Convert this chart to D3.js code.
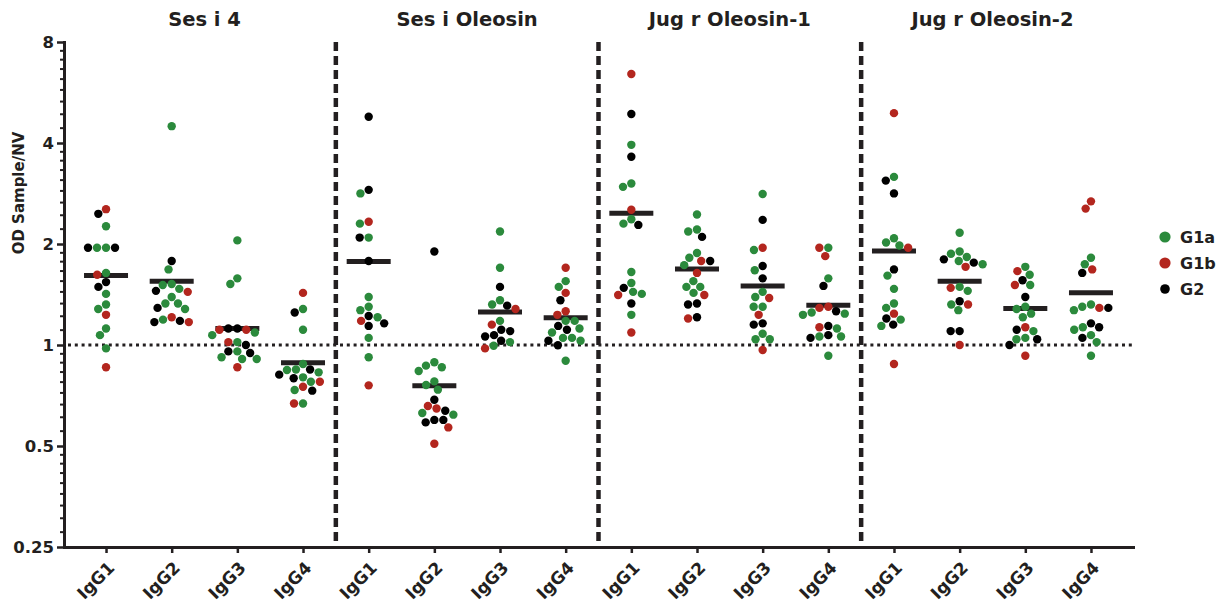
<!DOCTYPE html>
<html>
<head>
<meta charset="utf-8">
<script src="https://cdn.jsdelivr.net/npm/d3@7"></script>
<style>
  body { margin: 0; background: #fff; }
  text { font-family: "DejaVu Sans", sans-serif; font-weight: bold; fill: #231f20; }
</style>
</head>
<body>
<svg id="chart" width="1225" height="604"></svg>
<script>
const panels = ["Ses i 4", "Ses i Oleosin", "Jug r Oleosin-1", "Jug r Oleosin-2"];
const isotypes = ["IgG1", "IgG2", "IgG3", "IgG4"];
const groups = ["G1a", "G1b", "G2"];
const groupColors = ["#2b8a3c", "#b3261e", "#000000"];
const yTicks = [0.25, 0.5, 1, 2, 4, 8];

// one list per panel x isotype cell, panel by panel
const g1a = [
  [2.26, 1.95, 1.95, 1.64, 1.42, 1.28, 1.32, 1.12, 1.07, 0.977],
  [4.49, 1.68, 1.51, 1.52, 1.47, 1.39, 1.33, 1.33, 1.28, 1.19],
  [2.05, 1.58, 1.52, 1.09, 1.07, 1.02, 0.957, 0.908, 0.908, 0.919],
  [1.28, 1.11, 0.878, 0.842, 0.845, 0.829, 0.801, 0.777, 0.734, 0.669],
  [2.83, 2.30, 2.09, 1.39, 1.30, 1.27, 1.21, 1.05, 0.919],
  [0.888, 0.858, 0.868, 0.837, 0.779, 0.760, 0.736, 0.627, 0.620],
  [2.18, 1.70, 1.36, 1.32, 1.18, 1.02, 0.995],
  [1.55, 1.49, 1.18, 1.18, 1.12, 1.09, 1.05, 1.05, 1.03, 0.898],
  [3.95, 2.96, 3.03, 2.37, 2.30, 1.65, 1.53, 1.44, 1.42, 1.23],
  [2.45, 2.18, 2.21, 1.88, 1.82, 1.73, 1.55, 1.49, 1.49, 1.43],
  [2.82, 1.92, 1.67, 1.44, 1.39, 1.30, 1.30, 1.08, 1.04, 1.04],
  [1.95, 1.58, 1.25, 1.23, 1.24, 1.12, 1.06, 1.06, 0.929],
  [3.17, 2.08, 1.98, 2.02, 1.61, 1.47, 1.33, 1.29, 1.19, 1.14],
  [2.16, 1.90, 1.87, 1.83, 1.78, 1.74, 1.49, 1.45, 1.32, 1.27],
  [1.71, 1.62, 1.51, 1.28, 1.30, 1.24, 1.21, 1.10, 1.05, 1.04],
  [1.82, 1.74, 1.30, 1.27, 1.32, 1.11, 1.13, 1.07, 1.02, 0.929]
];
const g1b = [
  [2.54, 1.62, 1.23, 0.858],
  [1.44, 1.17, 1.21],
  [1.11, 1.11, 1.02, 0.858],
  [1.43, 0.777, 0.751, 0.669],
  [2.33, 1.18, 0.758],
  [0.658, 0.647, 0.568, 0.508],
  [1.28, 1.15, 0.977],
  [1.70, 1.43, 1.26, 1.23],
  [6.42, 2.53, 1.41, 1.09],
  [1.78, 1.64, 1.41, 1.20],
  [1.95, 1.38, 1.23, 0.966],
  [1.95, 1.84, 1.29, 1.30, 1.13],
  [4.91, 1.95, 1.24, 0.878],
  [1.71, 1.48, 1.32, 1.0],
  [1.66, 1.51, 1.13, 0.929],
  [2.68, 2.55, 1.68, 1.29]
];
const g2 = [
  [2.46, 1.95, 1.95, 1.54, 1.49],
  [1.78, 1.45, 1.29, 1.17, 1.18],
  [1.12, 1.12, 1.0, 0.957, 0.947],
  [1.25, 0.845, 0.816, 0.796, 0.731],
  [4.79, 2.90, 2.09, 1.78, 1.22, 1.16, 1.14],
  [1.90, 0.687, 0.637, 0.598, 0.588, 0.598],
  [1.49, 1.31, 1.11, 1.10, 1.07, 1.06, 1.03],
  [1.36, 1.14, 1.11, 1.03, 0.998],
  [4.88, 3.64, 2.28, 1.48, 1.33],
  [2.10, 1.78, 1.33, 1.32, 1.21],
  [2.36, 1.72, 1.58, 1.15, 1.16],
  [1.50, 1.26, 1.14, 1.07, 1.05],
  [3.09, 2.83, 1.68, 1.20, 1.15],
  [1.80, 1.76, 1.35, 1.10, 1.10],
  [1.56, 1.39, 1.11, 1.04, 1.0],
  [1.64, 1.29, 1.16, 1.13, 1.05]
];

const series = [g1a, g1b, g2];

const cells = d3.range(panels.length * isotypes.length).map(i => {
  const points = [];
  series.forEach((s, gi) => s[i].forEach(v => points.push({ group: gi, value: v })));
  return {
    key: i,
    panel: Math.floor(i / isotypes.length),
    isotype: isotypes[i % isotypes.length],
    points,
    mean: d3.mean(points, p => p.value)
  };
});

const svg = d3.select("#chart");
const margin = { left: 64, right: 1133, top: 42, bottom: 547 };

const x = d3.scalePoint().domain(cells.map(d => d.key)).range([margin.left, margin.right]).padding(0.64);
const y = d3.scaleLog().base(2).domain([0.25, 8]).range([margin.bottom, margin.top]);

// minor ticks: 8 linear steps between each pair of major ticks
const minorTicks = [];
for (let i = 0; i < yTicks.length - 1; i++) {
  const lo = yTicks[i], hi = yTicks[i + 1];
  for (let k = 1; k < 9; k++) minorTicks.push(lo + k * (hi - lo) / 9);
}

const yMinor = svg.append("g")
  .attr("transform", `translate(${margin.left},0)`)
  .call(d3.axisLeft(y).tickValues(minorTicks).tickSize(4).tickFormat(""));
yMinor.select(".domain").remove();
yMinor.selectAll("line").attr("stroke", "#231f20").attr("stroke-width", 2);

const yAxis = svg.append("g")
  .attr("transform", `translate(${margin.left},0)`)
  .call(d3.axisLeft(y).tickValues(yTicks).tickSize(7).tickSizeOuter(0).tickFormat(d3.format("~g")));
yAxis.select(".domain").attr("stroke", "#231f20").attr("stroke-width", 3).attr("stroke-linecap", "square");
yAxis.selectAll("line").attr("stroke", "#231f20").attr("stroke-width", 2.5);
yAxis.selectAll("text").style("font-size", "16.5px").attr("x", -10);

const xAxis = svg.append("g")
  .attr("transform", `translate(0,${margin.bottom})`)
  .call(d3.axisBottom(x).tickSize(6).tickSizeOuter(0).tickFormat(k => cells[k].isotype));
xAxis.select(".domain").attr("stroke", "#231f20").attr("stroke-width", 3).attr("stroke-linecap", "square");
xAxis.selectAll("line").attr("stroke", "#231f20").attr("stroke-width", 2.5);
xAxis.selectAll("text")
  .style("font-size", "17px")
  .attr("x", 0).attr("y", 0).attr("dy", 0)
  .attr("text-anchor", "end")
  .attr("transform", "translate(9,22) rotate(-45)");

// panel dividers
d3.range(1, panels.length).forEach(p => {
  const xd = (x(p * isotypes.length - 1) + x(p * isotypes.length)) / 2;
  svg.append("line")
    .attr("x1", xd).attr("x2", xd)
    .attr("y1", y(8)).attr("y2", y(0.25))
    .attr("stroke", "#231f20")
    .attr("stroke-width", 4.5)
    .attr("stroke-dasharray", "9,5");
});

// reference line at 1
svg.append("line")
  .attr("x1", margin.left + 4).attr("x2", margin.right)
  .attr("y1", y(1)).attr("y2", y(1))
  .attr("stroke", "#231f20")
  .attr("stroke-width", 3)
  .attr("stroke-dasharray", "3,3.8");

// panel titles
panels.forEach((name, p) => {
  const xs = isotypes.map((_, j) => x(p * isotypes.length + j));
  svg.append("text")
    .attr("x", d3.mean(xs))
    .attr("y", 26)
    .attr("text-anchor", "middle")
    .style("font-size", "19.5px")
    .text(name);
});

// y axis title
svg.append("text")
  .attr("transform", "translate(24,193) rotate(-90)")
  .attr("text-anchor", "middle")
  .style("font-size", "15px")
  .text("OD Sample/NV");

// simple beeswarm: smallest horizontal offset without overlap
const spacing = 9;
function swarm(points) {
  const placed = [];
  points.map(p => ({ ...p, py: y(p.value) }))
    .sort((a, b) => a.py - b.py)
    .forEach(p => {
      const cands = [0];
      placed.forEach(q => {
        const dy = Math.abs(q.py - p.py);
        if (dy < spacing) {
          const dx = Math.sqrt(spacing * spacing - dy * dy);
          cands.push(q.dx - dx, q.dx + dx);
        }
      });
      cands.sort((a, b) => Math.abs(a) - Math.abs(b));
      p.dx = cands.find(c => placed.every(q =>
        (q.dx - c) ** 2 + (q.py - p.py) ** 2 >= spacing * spacing - 0.01));
      placed.push(p);
    });
  return placed;
}

const cellG = svg.selectAll(".cell")
  .data(cells)
  .enter()
  .append("g")
  .attr("class", "cell")
  .attr("transform", d => `translate(${x(d.key)},0)`);

cellG.append("line")
  .attr("x1", -22).attr("x2", 22)
  .attr("y1", d => y(d.mean)).attr("y2", d => y(d.mean))
  .attr("stroke", "#231f20")
  .attr("stroke-width", 5);

cellG.each(function(d) {
  const pts = swarm(d.points).sort((a, b) => a.group - b.group);
  d3.select(this).selectAll("circle")
    .data(pts)
    .enter()
    .append("circle")
    .attr("cx", p => p.dx)
    .attr("cy", p => p.py)
    .attr("r", 4.2)
    .attr("fill", p => groupColors[p.group]);
});

// legend
const legend = svg.append("g").attr("transform", "translate(1165,237)");
groups.forEach((g, i) => {
  legend.append("circle")
    .attr("cx", 0).attr("cy", i * 26)
    .attr("r", i === 2 ? 4.8 : 5.6)
    .attr("fill", groupColors[i]);
  legend.append("text")
    .attr("x", 15).attr("y", i * 26)
    .attr("dy", "0.36em")
    .style("font-size", "16px")
    .text(g);
});
</script>
</body>
</html>
